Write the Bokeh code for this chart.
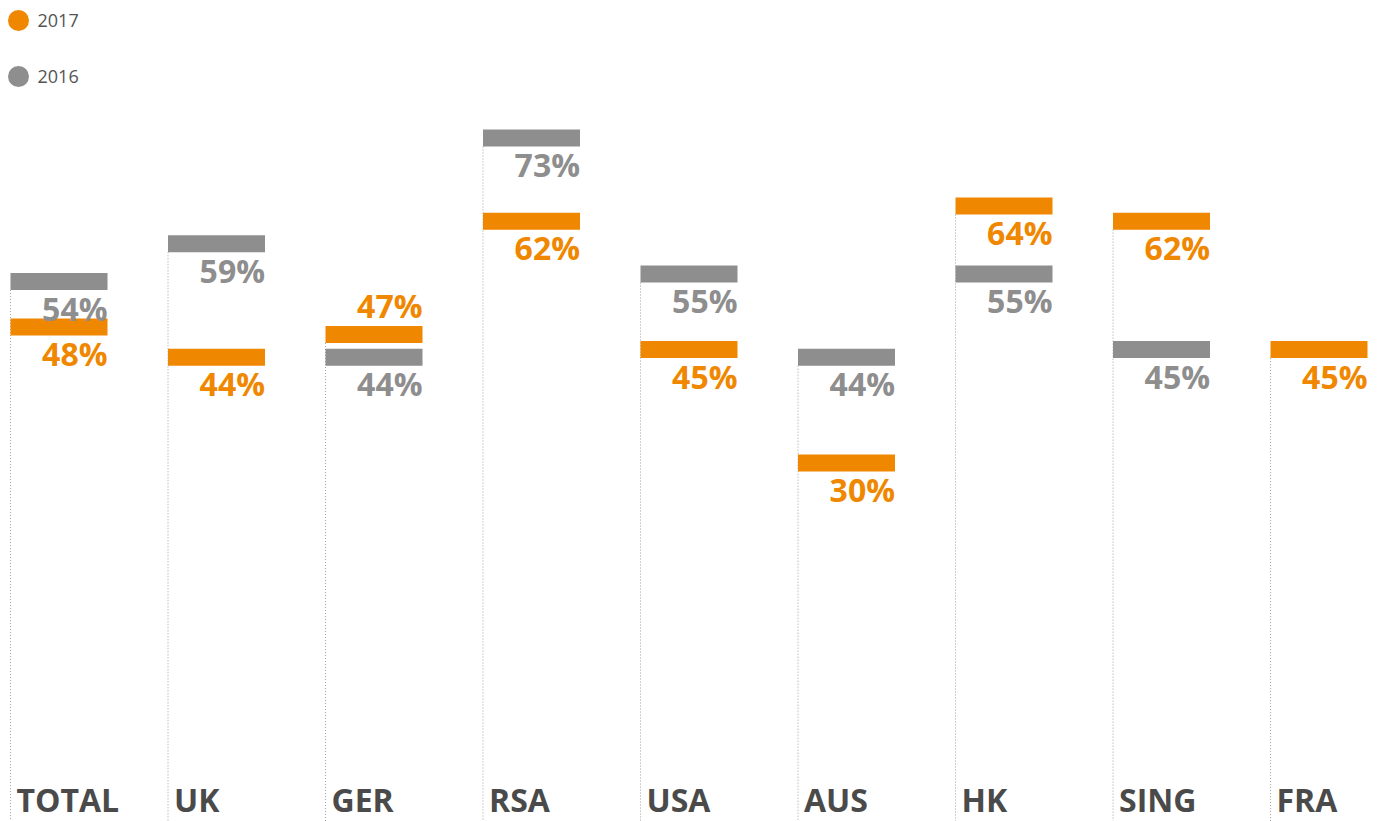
from bokeh.plotting import figure
from bokeh.models import Range1d, ColumnDataSource
from bokeh.core.properties import value
from bokeh.embed import file_html
from bokeh.resources import INLINE

categories = ["TOTAL", "UK", "GER", "RSA", "USA", "AUS", "HK", "SING", "FRA"]
values_2017 = [48, 44, 47, 62, 45, 30, 64, 62, 45]
values_2016 = [54, 59, 44, 73, 55, 44, 55, 45, None]

ORANGE = "#F08700"
GRAY = "#8E8E8E"
FONT = "Open Sans"

W, H = 1384, 821
PX_PER_PCT = 7.558
Y_TOP = 73 + 129 / PX_PER_PCT
Y_BOT = Y_TOP - H / PX_PER_PCT

def sy(screen_y):
    return Y_TOP - screen_y / PX_PER_PCT

p = figure(width=W, height=H, output_backend="svg", toolbar_location=None,
           x_range=Range1d(0, W), y_range=Range1d(Y_BOT, Y_TOP),
           min_border=0, min_border_left=0, min_border_right=0,
           min_border_top=0, min_border_bottom=0)
p.axis.visible = False
p.grid.visible = False
p.outline_line_color = None
p.background_fill_color = "white"
p.border_fill_color = "white"

BAR_W = 97
BAR_H = 17 / PX_PER_PCT
lefts = [10 + 157.5 * i for i in range(len(categories))]

# dotted column guides
for i, cat in enumerate(categories):
    vals = [v for v in (values_2017[i], values_2016[i]) if v is not None]
    top = max(vals) - BAR_H
    p.segment(x0=[lefts[i]], y0=[top], x1=[lefts[i]], y1=[Y_BOT],
              line_color="#a0a0a0", line_width=1, line_dash="1 2")

def build(vals, other):
    xs, ys, labels, offs = [], [], [], []
    for i, v in enumerate(vals):
        if v is None:
            continue
        o = other[i]
        # label above the bar when the other series sits just below it
        above = o is not None and 0 < v - o <= 4
        xs.append(lefts[i]); ys.append(v); labels.append(f"{v}%")
        offs.append(-21 if above else 35)
    return ColumnDataSource(dict(left=xs, right=[x + BAR_W for x in xs], top=ys,
                                 bottom=[y - BAR_H for y in ys], label=labels,
                                 yoff=offs))

src16 = build(values_2016, values_2017)
src17 = build(values_2017, values_2016)

for src, color in ((src16, GRAY), (src17, ORANGE)):
    p.quad(left="left", right="right", top="top", bottom="bottom", source=src,
           fill_color=color, line_color=None)
for src, color in ((src16, GRAY), (src17, ORANGE)):
    p.text(x="right", y="top", text="label", source=src, y_offset="yoff",
           text_align="right", text_baseline="alphabetic",
           text_font=value(FONT), text_font_style="bold",
           text_font_size="32px", text_color=color)

# category labels
p.text(x=[l + 6 for l in lefts], y=[sy(799)] * len(categories), text=categories,
       text_align="left", text_baseline="alphabetic", text_font=value(FONT),
       text_font_style="bold", text_font_size="32px", text_color="#4a4a4a")

# legend
legend_labels = ["2017", "2016"]
legend_colors = [ORANGE, GRAY]
legend_y = [sy(20), sy(76)]
p.scatter(x=[18, 18], y=legend_y, size=21, marker="circle",
          fill_color=legend_colors, line_color=None)
p.text(x=[37, 37], y=legend_y, text=legend_labels, text_align="left",
       text_baseline="middle", text_font=value(FONT), text_font_size="18px",
       text_color="#555555")

open("out.html", "w").write(file_html(p, INLINE))
